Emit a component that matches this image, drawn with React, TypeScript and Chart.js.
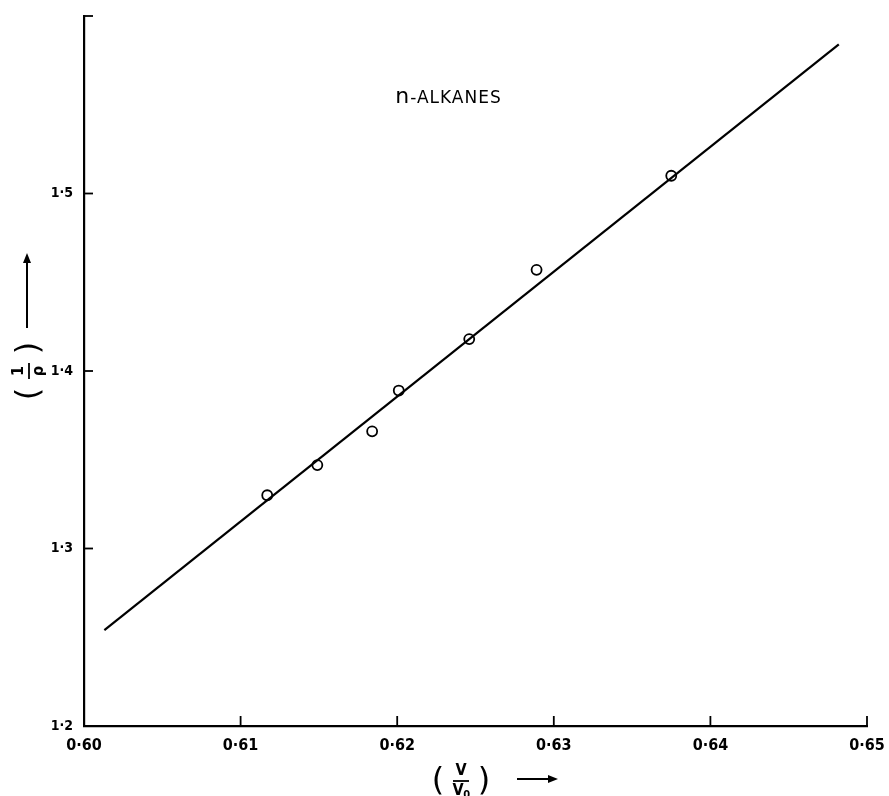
import { useEffect, useRef } from 'react';
import { Chart, registerables } from 'chart.js';

Chart.register(...registerables);

const W = 889;
const H = 796;

// Measured data (V/V0, 1/rho) for n-alkanes
const vRatio = [0.6117, 0.6149, 0.6184, 0.6201, 0.6246, 0.6289, 0.6375];
const invRho = [1.330, 1.347, 1.366, 1.389, 1.418, 1.457, 1.510];

// Fitted straight line end points
const fitX = [0.6013, 0.6482];
const fitY = [1.254, 1.584];

// Axis ranges / tick steps
const xRange = [0.60, 0.65];
const yRange = [1.2, 1.6];
const xStep = 0.01;
const yStep = 0.1;

const annotationText = 'ALKANES';
const FONT = "'Liberation Sans Narrow', 'DejaVu Sans Condensed', 'Liberation Sans', sans-serif";
const WIDE = "'DejaVu Sans', 'Liberation Sans', sans-serif";

export default function App() {
  const ref = useRef<HTMLCanvasElement | null>(null);

  useEffect(() => {
    if (!ref.current) return;
    const fmt = (v: number, d: number) => Number(v).toFixed(d).replace('.', '·');

    const drawFraction = (
      ctx: CanvasRenderingContext2D,
      cx: number,
      cy: number,
      angle: number,
      num: string,
      den: string,
      sub: string,
      arrowFrom: number,
      arrowTo: number
    ) => {
      ctx.save();
      ctx.translate(cx, cy);
      ctx.rotate(angle);
      ctx.fillStyle = '#000';
      ctx.strokeStyle = '#000';
      ctx.textAlign = 'center';
      ctx.textBaseline = 'middle';
      // parentheses
      ctx.font = `32px ${WIDE}`;
      ctx.fillText('(', -23, 1);
      ctx.fillText(')', 23, 1);
      // fraction
      ctx.font = `bold 16px ${FONT}`;
      ctx.fillText(num, 0, -10);
      ctx.lineWidth = 1.8;
      ctx.beginPath();
      ctx.moveTo(-8, 0);
      ctx.lineTo(8, 0);
      ctx.stroke();
      const dw = ctx.measureText(den).width;
      ctx.fillText(den, sub ? -3 : 0, 10);
      if (sub) {
        ctx.font = `bold 11px ${FONT}`;
        ctx.fillText(sub, -3 + dw / 2 + 3, 14);
      }
      // arrow
      ctx.lineWidth = 2;
      ctx.beginPath();
      ctx.moveTo(arrowFrom, -2);
      ctx.lineTo(arrowTo - 6, -2);
      ctx.stroke();
      ctx.beginPath();
      ctx.moveTo(arrowTo, -2);
      ctx.lineTo(arrowTo - 10, -6);
      ctx.lineTo(arrowTo - 10, 2);
      ctx.closePath();
      ctx.fill();
      ctx.restore();
    };

    const overlay = {
      id: 'overlay',
      afterDraw(chart: any) {
        const ctx: CanvasRenderingContext2D = chart.ctx;
        const xs = chart.scales.x;
        const ys = chart.scales.y;
        const area = chart.chartArea;
        ctx.save();
        ctx.strokeStyle = '#000';
        ctx.lineWidth = 1.8;
        // inward x ticks
        for (let v = xRange[0] + xStep; v <= xRange[1] + 1e-9; v += xStep) {
          const px = xs.getPixelForValue(v);
          ctx.beginPath();
          ctx.moveTo(px, area.bottom);
          ctx.lineTo(px, area.bottom - 10);
          ctx.stroke();
        }
        // inward y ticks
        for (let v = yRange[0] + yStep; v <= yRange[1] + 1e-9; v += yStep) {
          const py = ys.getPixelForValue(v);
          ctx.beginPath();
          ctx.moveTo(area.left, py);
          ctx.lineTo(area.left + 9, py);
          ctx.stroke();
        }
        // annotation
        ctx.fillStyle = '#000';
        ctx.textBaseline = 'alphabetic';
        ctx.textAlign = 'left';
        const ax = xs.getPixelForValue(0.62);
        const ay = ys.getPixelForValue(1.551);
        ctx.font = `22px ${WIDE}`;
        ctx.fillText('n', ax - 2, ay);
        const nw = ctx.measureText('n').width;
        ctx.font = `17px ${WIDE}`;
        (ctx as any).letterSpacing = '1px';
        ctx.fillText('-' + annotationText, ax - 2 + nw + 1, ay);
        (ctx as any).letterSpacing = '0px';
        ctx.restore();

        // axis titles
        drawFraction(ctx, 461, 781, 0, 'V', 'V', '0', 56, 97);
        drawFraction(ctx, 29, 371, -Math.PI / 2, '1', 'ρ', '', 43, 118);
      },
    };

    const chart = new Chart(ref.current, {
      type: 'scatter',
      data: {
        datasets: [
          {
            type: 'line',
            data: fitX.map((x, i) => ({ x, y: fitY[i] })),
            borderColor: '#000',
            borderWidth: 2.2,
            pointRadius: 0,
            fill: false,
            tension: 0,
          } as any,
          {
            type: 'scatter',
            data: vRatio.map((x, i) => ({ x, y: invRho[i] })),
            pointRadius: 5,
            pointBorderWidth: 1.8,
            pointBackgroundColor: '#fff',
            pointBorderColor: '#000',
          },
        ],
      },
      options: {
        responsive: false,
        animation: false,
        layout: { padding: { left: 0, right: 22, top: 16, bottom: 0 } },
        plugins: { legend: { display: false }, tooltip: { enabled: false } },
        scales: {
          x: {
            type: 'linear',
            min: xRange[0],
            max: xRange[1],
            afterFit: (s: any) => {
              s.height = 70;
            },
            grid: { display: false },
            border: { display: true, color: '#000', width: 2.2 },
            ticks: {
              stepSize: xStep,
              autoSkip: false,
              maxRotation: 0,
              padding: 2,
              color: '#000',
              font: { family: FONT, size: 16, weight: 'bold' },
              callback: (v: any) => fmt(v, 2),
            },
          },
          y: {
            type: 'linear',
            min: yRange[0],
            max: yRange[1],
            afterFit: (s: any) => {
              s.width = 84;
            },
            grid: { display: false },
            border: { display: true, color: '#000', width: 2.2 },
            ticks: {
              stepSize: yStep,
              autoSkip: false,
              padding: 3,
              color: '#000',
              font: { family: FONT, size: 14, weight: 'bold' },
              callback: (v: any) => (Math.abs(v - yRange[1]) < 1e-6 ? '' : fmt(v, 1)),
            },
          },
        },
      },
      plugins: [overlay],
    });
    return () => chart.destroy();
  }, []);

  return (
    <div style={{ position: 'absolute', left: 0, top: 0, width: W, height: H, background: '#fff' }}>
      <canvas ref={ref} width={W} height={H} style={{ display: 'block' }} />
    </div>
  );
}
